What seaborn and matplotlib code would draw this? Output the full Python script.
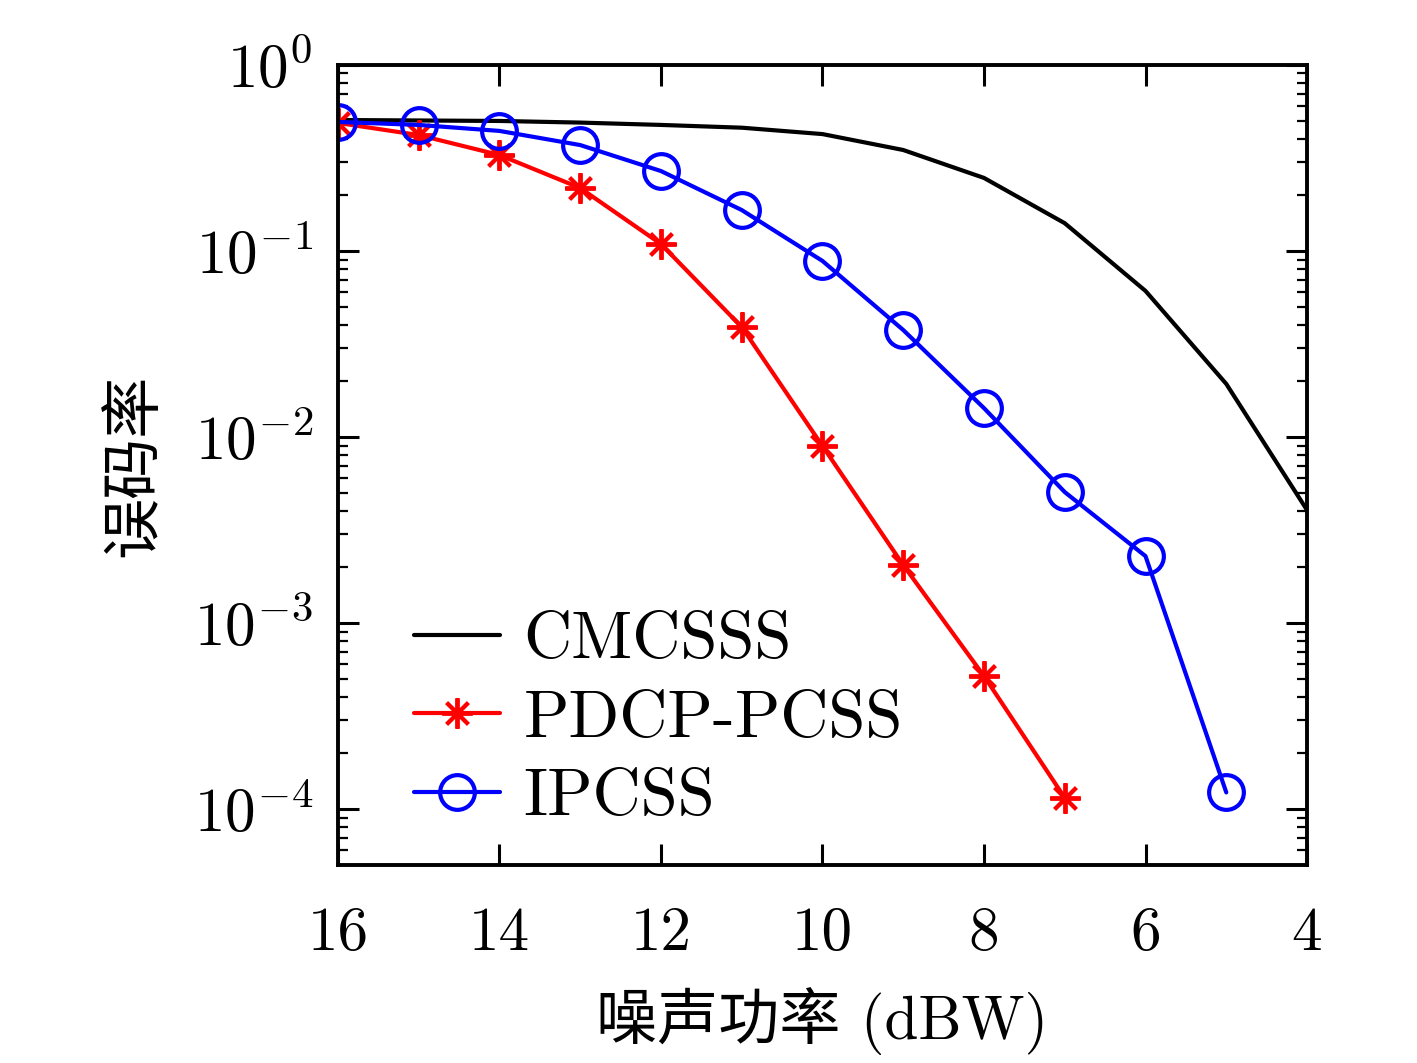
import numpy as np
import pandas as pd
import matplotlib
matplotlib.use("Agg")
import matplotlib.pyplot as plt
import matplotlib.ticker as mticker
import seaborn as sns

# datos
x_cmc = [16, 15, 14, 13, 12, 11, 10, 9, 8, 7, 6, 5, 4]
ber_cmc = [0.506, 0.503, 0.50, 0.49, 0.476, 0.46, 0.425, 0.349, 0.247, 0.141, 0.061, 0.0193, 0.00405]

x_pdcp = [16, 15, 14, 13, 12, 11, 10, 9, 8, 7]
ber_pdcp = [0.488, 0.42, 0.328, 0.218, 0.109, 0.039, 0.00895, 0.00205, 0.000519, 0.000115]

x_ipcss = [16, 15, 14, 13, 12, 11, 10, 9, 8, 7, 6, 5]
ber_ipcss = [0.494, 0.476, 0.442, 0.371, 0.269, 0.166, 0.0884, 0.0376, 0.0143, 0.00506, 0.00229, 0.000123]

labels = ["CMCSSS", "PDCP-PCSS", "IPCSS"]
xticks = [16, 14, 12, 10, 8, 6, 4]

sns.set_style("ticks")
plt.rcParams["font.family"] = ["cmr10", "Noto Sans CJK SC", "DejaVu Serif"]
plt.rcParams["mathtext.fontset"] = "cm"
plt.rcParams["axes.unicode_minus"] = False
plt.rcParams["text.color"] = "black"
plt.rcParams["axes.labelcolor"] = "black"
plt.rcParams["xtick.color"] = "black"
plt.rcParams["ytick.color"] = "black"

fig = plt.figure(figsize=(14.17, 10.63), dpi=100)
ax = fig.add_axes([0.2385, 0.1863, 0.6839, 0.7526])

df1 = pd.DataFrame({"x": x_cmc, "y": ber_cmc})
df2 = pd.DataFrame({"x": x_pdcp, "y": ber_pdcp})
df3 = pd.DataFrame({"x": x_ipcss, "y": ber_ipcss})

sns.lineplot(data=df1, x="x", y="y", ax=ax, color="black", lw=3, label=labels[0])
sns.lineplot(data=df2, x="x", y="y", ax=ax, color="red", lw=3, marker=(8, 2, 0),
             markersize=22, markeredgewidth=2.8, markeredgecolor="red", label=labels[1])
sns.lineplot(data=df3, x="x", y="y", ax=ax, color="blue", lw=3, marker="o",
             markersize=25, markeredgewidth=3, markerfacecolor="none",
             markeredgecolor="blue", label=labels[2])

ax.set_yscale("log")
ax.set_xlim(16, 4)
ax.set_ylim(10 ** -4.3, 1)
ax.set_xticks(xticks)
ax.set_xticklabels([str(t) for t in xticks])
ax.set_yticks([1e-4, 1e-3, 1e-2, 1e-1, 1])
ax.yaxis.set_major_formatter(mticker.FuncFormatter(
    lambda v, p: r"$\mathrm{10^{%d}}$" % int(round(np.log10(v)))))
ax.yaxis.set_minor_locator(mticker.LogLocator(base=10, subs=np.arange(2, 10), numticks=20))
ax.yaxis.set_minor_formatter(mticker.NullFormatter())
ax.xaxis.set_minor_locator(mticker.NullLocator())

ax.tick_params(axis="both", which="major", direction="in", length=15, width=2.2,
               top=True, right=True, labelsize=44)
ax.tick_params(axis="x", which="major", pad=30)
ax.tick_params(axis="y", which="major", pad=18)
ax.tick_params(axis="y", which="minor", direction="in", length=7, width=1.6,
               left=True, right=True)
for s in ax.spines.values():
    s.set_linewidth(2.8)
    s.set_color("black")

ax.set_xlabel("噪声功率 (dBW)", fontsize=44, labelpad=18)
ax.set_ylabel("误码率", fontsize=44, labelpad=22)

ax.legend(loc="lower left", bbox_to_anchor=(0.03, -0.012), frameon=False, fontsize=48,
          handlelength=1.3, handletextpad=0.35, labelspacing=0.28, borderpad=0.2)

fig.savefig("out.png", dpi=100)
